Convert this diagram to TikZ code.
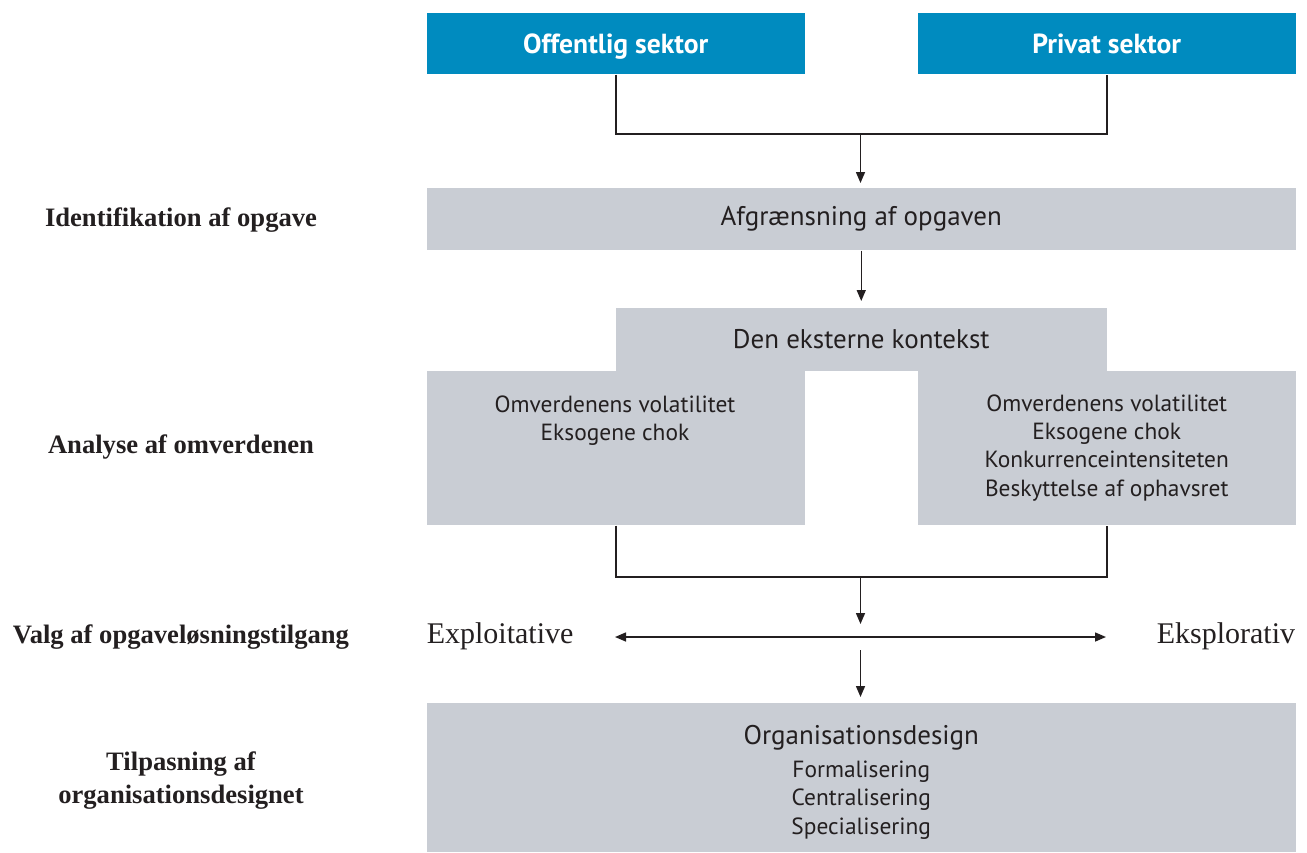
\documentclass[tikz,border=0pt]{standalone}
\usepackage{fontspec}
\setmainfont{Liberation Serif}
\setsansfont{PT Sans}
\usetikzlibrary{arrows.meta}
\definecolor{sektorblaa}{RGB}{0,139,191}
\definecolor{feltgraa}{RGB}{201,205,212}
\definecolor{tekst}{RGB}{35,31,32}
\tikzset{
  sektor/.style={fill=sektorblaa,text=white,font=\sffamily\bfseries\fontsize{13.8}{16}\selectfont,minimum width=189pt,minimum height=30.5pt,inner sep=0pt,text height=10.5pt,text depth=0pt,anchor=north west},
  felt/.style={fill=feltgraa,text=tekst,inner sep=0pt,anchor=north west,align=center,font=\sffamily\fontsize{11.7}{14.2}\selectfont},
  overskrift/.style={font=\sffamily\fontsize{13.5}{16}\selectfont},
  niveau/.style={font=\bfseries\fontsize{13.3}{16.5}\selectfont,align=center,text=tekst},
  pol/.style={font=\fontsize{15}{17}\selectfont,text=tekst,inner sep=0pt,anchor=west},
  pil/.style={-{Triangle[length=5.5pt,width=4.5pt]}},
  dobbeltpil/.style={{Triangle[length=5.5pt,width=4.5pt]}-{Triangle[length=5.5pt,width=4.5pt]}}
}
\begin{document}
\begin{tikzpicture}[x=0.5pt,y=-0.5pt,line width=0.75pt,color=tekst]
  \useasboundingbox (0,0) rectangle (1307,852);
  \node[sektor] (O) at (426,12) {Offentlig sektor};
  \node[sektor] (P) at (917,12) {Privat sektor};
  \node[felt,overskrift,minimum width=434.5pt,minimum height=31pt] (A) at (426,187) {Afgrænsning af opgaven};
  \node[felt,overskrift,minimum width=245.5pt,minimum height=31.5pt] (K) at (615,307) {Den eksterne kontekst};
  \node[felt,minimum width=189pt,minimum height=77pt] (V) at (426,370) {};
  \node[felt,fill=none,anchor=north] (Vt) at (615,395) {Omverdenens volatilitet\\Eksogene chok};
  \node[felt,minimum width=189pt,minimum height=77pt] (H) at (917,370) {Omverdenens volatilitet\\Eksogene chok\\Konkurrenceintensiteten\\Beskyttelse af ophavsret};
  \node[felt,minimum width=434.5pt,minimum height=74.5pt] (D) at (426,702) {\fontsize{13.5}{16}\selectfont\rule{0pt}{14.5pt}Organisationsdesign\\[2.5pt]\fontsize{11.7}{14.2}\selectfont Formalisering\\Centralisering\\Specialisering};

  \node[niveau] (L1) at (181,220) {Identifikation af opgave};
  \node[niveau] (L2) at (181,447) {Analyse af omverdenen};
  \node[niveau] (L3) at (181,637) {Valg af opgaveløsningstilgang};
  \node[niveau] (L4) at (181,781) {Tilpasning af\\organisationsdesignet};
  \node[pol] (E1) at (426,636) {Exploitative};
  \node[pol] (E2) at (1156,636) {Eksplorativ};

  \coordinate (j1) at (860.5,134);
  \coordinate (j2) at (860.5,577);
  \coordinate (vL) at (615,637);
  \coordinate (vM) at (860.5,637);
  \coordinate (vR) at (1106,637);
  \draw (O.south) |- (j1) -| (P.south);
  \draw[pil] (j1) -- ([yshift=2pt]j1 |- A.north);
  \draw[pil] (A.south) -- ([yshift=3pt]K.north);
  \draw (V.south) |- (j2) -| (H.south);
  \draw[pil] (j2) -- ([yshift=6.5pt]vM);
  \draw[dobbeltpil] (vL) -- (vR);
  \draw[pil] ([yshift=-6.5pt]vM) -- ([yshift=2.5pt]vM |- D.north);
\end{tikzpicture}
\end{document}
